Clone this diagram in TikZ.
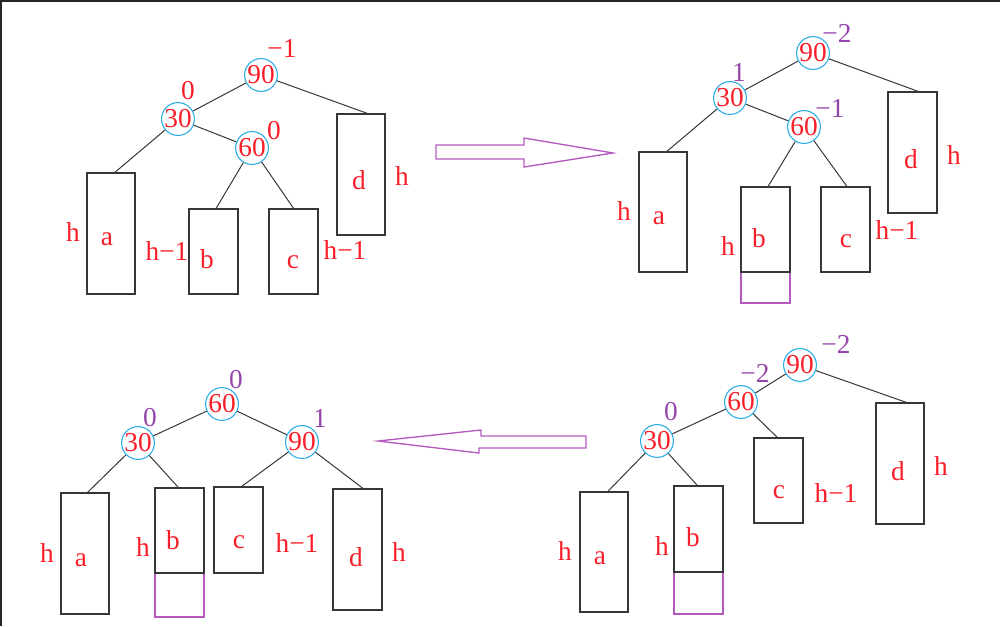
\documentclass[tikz,border=0pt]{standalone}
\usepackage{fontspec}
\setmainfont{Liberation Serif}
\usetikzlibrary{fit}
\definecolor{tred}{RGB}{250,30,40}
\definecolor{tpur}{RGB}{150,70,170}
\definecolor{apur}{RGB}{180,90,190}
\definecolor{cblue}{RGB}{40,170,230}
\definecolor{lgray}{RGB}{55,55,55}
\tikzset{
  bnode/.style={circle,draw=cblue,line width=0.8pt,minimum size=22.5pt,inner sep=0pt,text=tred,font=\fontsize{20.5}{22}\selectfont},
  box/.style={draw=lgray,line width=1.1pt,inner sep=0pt},
  pbox/.style={draw=apur,line width=1pt,inner sep=0pt},
  edge/.style={draw=lgray,line width=0.75pt},
  lbl/.style={text=tred,inner sep=0pt,font=\fontsize{20.5}{22}\selectfont},
  bf/.style={text=tpur,inner sep=0pt,font=\fontsize{20.5}{22}\selectfont},
  fat/.style={draw=apur,line width=1pt,fill=white},
  frame/.style={draw=black!85,line width=1.5pt}
}
\begin{document}
\begin{tikzpicture}[x=0.75pt,y=-0.75pt]
\useasboundingbox (0,0) rectangle (1000,626);
\draw[frame] (1,626) -- (1,1) -- (1000,1);

% ---------- Panel 1 (top left) ----------
\node[bnode] (p1n90) at (261,75) {90};
\node[bnode] (p1n30) at (178,119) {30};
\node[bnode] (p1n60) at (252,148) {60};
\node[box,fit={(87,173) (135,294)}] (p1a) {};
\node[box,fit={(189,209) (238,294)}] (p1b) {};
\node[box,fit={(269,209) (318,294)}] (p1c) {};
\node[box,fit={(337,114) (385,235)}] (p1d) {};
\draw[edge] (p1n90) -- (p1n30);
\draw[edge] (p1n90) -- ([xshift=4.5pt]p1d.north);
\draw[edge] (p1n30) -- ([xshift=3pt]p1a.north);
\draw[edge] (p1n30) -- (p1n60);
\draw[edge] (p1n60) -- ([xshift=2pt]p1b.north);
\draw[edge] (p1n60) -- (p1c.north);
\node[lbl] (p1f90) at (282,48) {−1};
\node[lbl] (p1f30) at (188,91) {0};
\node[lbl] (p1f60) at (274,131) {0};
\node[lbl] (p1ha) at (73,232) {h};
\node[lbl] (p1la) at (107,239) {a};
\node[lbl] (p1hb) at (167,251) {h−1};
\node[lbl] (p1lb) at (207,259) {b};
\node[lbl] (p1lc) at (293,262) {c};
\node[lbl] (p1hc) at (345,250) {h−1};
\node[lbl] (p1ld) at (359,180) {d};
\node[lbl] (p1hd) at (402,176) {h};

% ---------- Arrow 1 ----------
\draw[fat] (436,145) -- (524,145) -- (524,138) -- (613,153) -- (524,167) -- (524,159) -- (436,159) -- cycle;

% ---------- Panel 2 (top right) ----------
\node[bnode] (p2n90) at (813,53) {90};
\node[bnode] (p2n30) at (730,98) {30};
\node[bnode] (p2n60) at (804,127) {60};
\node[box,fit={(639,152) (687,272)}] (p2a) {};
\node[pbox,fit={(741,272) (790,303)}] (p2x) {};
\node[box,fit={(741,187) (790,272)}] (p2b) {};
\node[box,fit={(821,187) (870,272)}] (p2c) {};
\node[box,fit={(888,92) (937,213)}] (p2d) {};
\draw[edge] (p2n90) -- (p2n30);
\draw[edge] (p2n90) -- ([xshift=4pt]p2d.north);
\draw[edge] (p2n30) -- ([xshift=3pt]p2a.north);
\draw[edge] (p2n30) -- (p2n60);
\draw[edge] (p2n60) -- ([xshift=2pt]p2b.north);
\draw[edge] (p2n60) -- ([xshift=1pt]p2c.north);
\node[bf] (p2f90) at (837,33) {−2};
\node[bf] (p2f30) at (739,72) {1};
\node[bf] (p2f60) at (830,108) {−1};
\node[lbl] (p2ha) at (624,211) {h};
\node[lbl] (p2la) at (659,218) {a};
\node[lbl] (p2hb) at (728,246) {h};
\node[lbl] (p2lb) at (759,238) {b};
\node[lbl] (p2lc) at (846,241) {c};
\node[lbl] (p2hc) at (897,230) {h−1};
\node[lbl] (p2ld) at (911,159) {d};
\node[lbl] (p2hd) at (954,155) {h};

% ---------- Panel 4 (bottom right) ----------
\node[bnode] (p4n90) at (800,365) {90};
\node[bnode] (p4n60) at (741,402) {60};
\node[bnode] (p4n30) at (657,441) {30};
\node[box,fit={(580,492) (628,612)}] (p4a) {};
\node[pbox,fit={(674,572) (723,614)}] (p4x) {};
\node[box,fit={(674,486) (723,572)}] (p4b) {};
\node[box,fit={(754,438) (803,523)}] (p4c) {};
\node[box,fit={(876,403) (924,524)}] (p4d) {};
\draw[edge] (p4n90) -- (p4n60);
\draw[edge] (p4n90) -- ([xshift=4.5pt]p4d.north);
\draw[edge] (p4n60) -- (p4n30);
\draw[edge] (p4n60) -- ([xshift=-1pt]p4c.north);
\draw[edge] (p4n30) -- ([xshift=3pt]p4a.north);
\draw[edge] (p4n30) -- ([xshift=-1pt]p4b.north);
\node[bf] (p4f90) at (836,344) {−2};
\node[bf] (p4f60) at (755,373) {−2};
\node[bf] (p4f30) at (671,412) {0};
\node[lbl] (p4ha) at (565,551) {h};
\node[lbl] (p4la) at (600,558) {a};
\node[lbl] (p4hb) at (662,546) {h};
\node[lbl] (p4lb) at (693,537) {b};
\node[lbl] (p4lc) at (779,492) {c};
\node[lbl] (p4hc) at (836,493) {h−1};
\node[lbl] (p4ld) at (898,471) {d};
\node[lbl] (p4hd) at (941,466) {h};

% ---------- Arrow 2 ----------
\draw[fat] (586,436) -- (481,436) -- (481,430) -- (378,441) -- (479,453) -- (479,448) -- (586,448) -- cycle;

% ---------- Panel 3 (bottom left) ----------
\node[bnode] (p3n60) at (222,404) {60};
\node[bnode] (p3n30) at (138,443) {30};
\node[bnode] (p3n90) at (302,442) {90};
\node[box,fit={(61,493) (109,614)}] (p3a) {};
\node[pbox,fit={(155,573) (204,617)}] (p3x) {};
\node[box,fit={(155,488) (204,573)}] (p3b) {};
\node[box,fit={(214,487) (263,573)}] (p3c) {};
\node[box,fit={(333,489) (382,610)}] (p3d) {};
\draw[edge] (p3n60) -- (p3n30);
\draw[edge] (p3n60) -- (p3n90);
\draw[edge] (p3n30) -- ([xshift=2pt]p3a.north);
\draw[edge] (p3n30) -- ([xshift=-1pt]p3b.north);
\draw[edge] (p3n90) -- ([xshift=2.5pt]p3c.north);
\draw[edge] (p3n90) -- ([xshift=4pt]p3d.north);
\node[bf] (p3f60) at (236,380) {0};
\node[bf] (p3f30) at (150,418) {0};
\node[bf] (p3f90) at (320,418) {1};
\node[lbl] (p3ha) at (47,553) {h};
\node[lbl] (p3la) at (81,560) {a};
\node[lbl] (p3hb) at (143,547) {h};
\node[lbl] (p3lb) at (173,540) {b};
\node[lbl] (p3lc) at (239,542) {c};
\node[lbl] (p3hc) at (297,543) {h−1};
\node[lbl] (p3ld) at (356,557) {d};
\node[lbl] (p3hd) at (399,552) {h};
\end{tikzpicture}
\end{document}
